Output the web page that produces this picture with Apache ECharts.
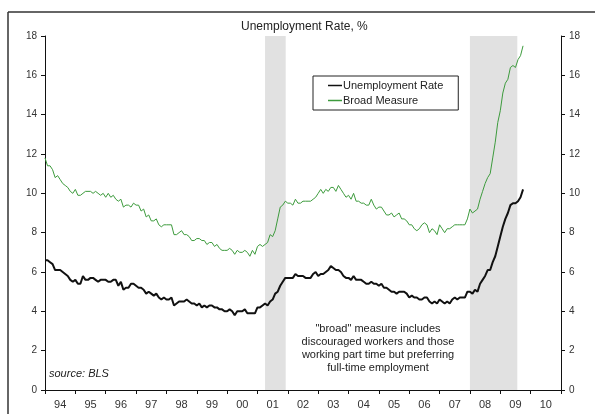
<!DOCTYPE html>
<html>
<head>
<meta charset="utf-8">
<script src="https://cdn.jsdelivr.net/npm/echarts@6/dist/echarts.min.js"></script>
<style>
  html, body { margin: 0; padding: 0; background: #ffffff; }
  #chart { width: 595px; height: 414px; }
</style>
</head>
<body>
<div id="chart"></div>
<script>
// Monthly series, January 1994 through October 2009 (percent)
const startYear = 1994;

const unemploymentRate = [
  6.6, 6.6, 6.5, 6.4, 6.1, 6.1, 6.1, 6.0, 5.9, 5.8, 5.6, 5.5,   // 1994
  5.6, 5.4, 5.4, 5.8, 5.6, 5.6, 5.7, 5.7, 5.6, 5.5, 5.6, 5.6,   // 1995
  5.6, 5.5, 5.5, 5.6, 5.6, 5.3, 5.5, 5.1, 5.2, 5.2, 5.4, 5.4,   // 1996
  5.3, 5.2, 5.2, 5.1, 4.9, 5.0, 4.9, 4.8, 4.9, 4.7, 4.6, 4.7,   // 1997
  4.6, 4.6, 4.7, 4.3, 4.4, 4.5, 4.5, 4.5, 4.6, 4.5, 4.4, 4.4,   // 1998
  4.3, 4.4, 4.2, 4.3, 4.2, 4.3, 4.3, 4.2, 4.2, 4.1, 4.1, 4.0,   // 1999
  4.0, 4.1, 4.0, 3.8, 4.0, 4.0, 4.0, 4.1, 3.9, 3.9, 3.9, 3.9,   // 2000
  4.2, 4.2, 4.3, 4.4, 4.3, 4.5, 4.6, 4.9, 5.0, 5.3, 5.5, 5.7,   // 2001
  5.7, 5.7, 5.7, 5.9, 5.8, 5.8, 5.8, 5.7, 5.7, 5.7, 5.9, 6.0,   // 2002
  5.8, 5.9, 5.9, 6.0, 6.1, 6.3, 6.2, 6.1, 6.1, 6.0, 5.8, 5.7,   // 2003
  5.7, 5.6, 5.8, 5.6, 5.6, 5.6, 5.5, 5.4, 5.4, 5.5, 5.4, 5.4,   // 2004
  5.3, 5.4, 5.2, 5.2, 5.1, 5.0, 5.0, 4.9, 5.0, 5.0, 5.0, 4.9,   // 2005
  4.7, 4.8, 4.7, 4.7, 4.6, 4.6, 4.7, 4.7, 4.5, 4.4, 4.5, 4.4,   // 2006
  4.6, 4.5, 4.4, 4.5, 4.4, 4.6, 4.7, 4.6, 4.7, 4.7, 4.7, 5.0,   // 2007
  5.0, 4.9, 5.1, 5.0, 5.4, 5.6, 5.8, 6.1, 6.1, 6.5, 6.8, 7.3,   // 2008
  7.8, 8.3, 8.7, 9.0, 9.4, 9.5, 9.5, 9.6, 9.8, 10.2             // 2009
];

const broadMeasure = [
  11.8, 11.4, 11.4, 11.2, 10.8, 10.9, 10.7, 10.5, 10.4, 10.3, 10.1, 10.0, // 1994
  10.2, 9.9, 9.9, 10.0, 10.1, 10.1, 10.1, 10.0, 10.1, 10.0, 9.9, 10.0,    // 1995
  9.8, 10.0, 9.8, 9.9, 9.7, 9.6, 9.7, 9.3, 9.4, 9.4, 9.3, 9.5,            // 1996
  9.4, 9.4, 9.1, 9.2, 8.8, 8.9, 8.6, 8.6, 8.7, 8.4, 8.3, 8.4,             // 1997
  8.4, 8.4, 8.4, 7.9, 7.9, 8.0, 8.1, 7.9, 7.9, 7.8, 7.6, 7.6,             // 1998
  7.7, 7.7, 7.6, 7.6, 7.4, 7.5, 7.5, 7.3, 7.4, 7.2, 7.1, 7.1,             // 1999
  7.1, 7.2, 7.1, 6.9, 7.1, 7.0, 7.0, 7.1, 7.0, 6.8, 7.1, 6.9,             // 2000
  7.3, 7.4, 7.3, 7.4, 7.5, 7.9, 7.8, 8.1, 8.7, 9.3, 9.4, 9.6,             // 2001
  9.5, 9.5, 9.4, 9.7, 9.5, 9.5, 9.6, 9.6, 9.6, 9.6, 9.7, 9.8,             // 2002
  10.0, 10.2, 10.0, 10.2, 10.1, 10.3, 10.3, 10.1, 10.4, 10.2, 10.0, 9.8,  // 2003
  9.9, 9.7, 10.0, 9.6, 9.6, 9.5, 9.5, 9.4, 9.4, 9.7, 9.4, 9.2,            // 2004
  9.3, 9.3, 9.1, 8.9, 8.9, 9.0, 8.8, 8.9, 9.0, 8.7, 8.7, 8.6,             // 2005
  8.4, 8.4, 8.2, 8.1, 8.2, 8.4, 8.5, 8.4, 8.0, 8.2, 8.1, 7.9,             // 2006
  8.4, 8.2, 8.0, 8.2, 8.2, 8.3, 8.4, 8.4, 8.4, 8.4, 8.4, 8.7,             // 2007
  9.2, 9.0, 9.1, 9.2, 9.7, 10.1, 10.5, 10.8, 11.0, 11.8, 12.6, 13.6,      // 2008
  14.2, 15.1, 15.6, 15.8, 16.4, 16.5, 16.4, 16.8, 17.0, 17.5              // 2009
];

// Recession periods (decimal years)
const recessions = [
  [2001.25, 2001.93],
  [2008.0, 2009.56]
];

const seriesNames = ['Unemployment Rate', 'Broad Measure'];
const titleText = 'Unemployment Rate, %';
const sourceText = 'source: BLS';
const noteLines = [
  '"broad" measure includes',
  'discouraged workers and those',
  'working part time but preferring',
  'full-time employment'
];

const yMin = 0, yMax = 18, yStep = 2;
const xMin = 1994, xMax = 2011;

// [decimal year, value] pairs for a value x-axis
function toPairs(values) {
  return values.map((v, i) => [startYear + i / 12, v]);
}

const FONT = 'Arial, "Liberation Sans", sans-serif';
const TEXT = '#222';

const chart = echarts.init(document.getElementById('chart'), null, { renderer: 'canvas' });

const yAxisBase = {
  type: 'value',
  min: yMin,
  max: yMax,
  interval: yStep,
  axisLine: { show: true, lineStyle: { color: '#111', width: 1 } },
  axisTick: { show: true, inside: false, length: 4, lineStyle: { color: '#111' } },
  axisLabel: { margin: 8, fontSize: 10, color: '#333', fontFamily: FONT },
  splitLine: { show: false }
};

chart.setOption({
  animation: false,
  backgroundColor: '#ffffff',
  title: {
    text: titleText,
    left: 241,
    top: 21,
    padding: 0,
    textStyle: { fontSize: 12, fontWeight: 'normal', color: TEXT, fontFamily: FONT }
  },
  legend: {
    data: seriesNames,
    orient: 'vertical',
    left: 313,
    top: 76,
    padding: [3, 15, 3, 15],
    borderColor: '#222',
    borderWidth: 1,
    backgroundColor: '#ffffff',
    icon: 'rect',
    itemWidth: 14,
    itemHeight: 1.5,
    itemGap: 2,
    textStyle: { fontSize: 11, color: TEXT, fontFamily: FONT, lineHeight: 13, padding: [0, 0, 0, -4] }
  },
  grid: { left: 45, right: 34, top: 36, bottom: 24, containLabel: false },
  xAxis: [
    {
      type: 'value',
      position: 'bottom',
      min: xMin,
      max: xMax,
      interval: 1,
      axisLine: { show: true, onZero: false, lineStyle: { color: '#111', width: 1 } },
      axisTick: { show: true, inside: false, length: 4, lineStyle: { color: '#111' } },
      axisLabel: { show: false },
      splitLine: { show: false }
    },
    {
      // year labels sit mid-way between the yearly ticks
      type: 'value',
      position: 'bottom',
      offset: 0,
      min: xMin,
      max: xMax,
      interval: 0.5,
      axisLine: { show: false },
      axisTick: { show: false },
      splitLine: { show: false },
      axisLabel: {
        margin: 9,
        fontSize: 11,
        color: '#333',
        fontFamily: FONT,
        showMinLabel: false,
        showMaxLabel: false,
        formatter: function (v) {
          const half = Math.round(v * 2);
          return half % 2 === 1 ? String(Math.floor(v)).slice(2) : '';
        }
      }
    }
  ],
  yAxis: [
    Object.assign({}, yAxisBase, { position: 'left' }),
    Object.assign({}, yAxisBase, { position: 'right' })
  ],
  series: [
    {
      name: 'recessions',
      type: 'line',
      data: [],
      z: 1,
      silent: true,
      markArea: {
        silent: true,
        itemStyle: { color: '#e1e1e1' },
        data: recessions.map(r => [{ xAxis: r[0] }, { xAxis: r[1] }])
      }
    },
    {
      name: seriesNames[0],
      type: 'line',
      xAxisIndex: 0,
      yAxisIndex: 0,
      data: toPairs(unemploymentRate),
      showSymbol: false,
      z: 3,
      lineStyle: { color: '#111111', width: 2 },
      itemStyle: { color: '#111111' }
    },
    {
      name: seriesNames[1],
      type: 'line',
      xAxisIndex: 0,
      yAxisIndex: 0,
      data: toPairs(broadMeasure),
      showSymbol: false,
      z: 3,
      lineStyle: { color: '#3d9b3d', width: 1 },
      itemStyle: { color: '#3d9b3d' }
    }
  ],
  graphic: [
    // outer frame, top and left edges
    { type: 'line', shape: { x1: 8, y1: 12, x2: 595, y2: 12 }, style: { stroke: '#333', lineWidth: 1.5 } },
    { type: 'line', shape: { x1: 8, y1: 12, x2: 8, y2: 414 }, style: { stroke: '#333', lineWidth: 1.5 } },
    {
      type: 'text',
      left: 49,
      top: 368,
      style: { text: sourceText, fontSize: 11, fontStyle: 'italic', fill: TEXT, fontFamily: FONT }
    },
    {
      type: 'text',
      x: 378,
      y: 322,
      style: {
        text: noteLines.join('\n'),
        fontSize: 11,
        lineHeight: 13,
        align: 'center',
        verticalAlign: 'top',
        fill: TEXT,
        fontFamily: FONT
      }
    }
  ]
});
</script>
</body>
</html>
